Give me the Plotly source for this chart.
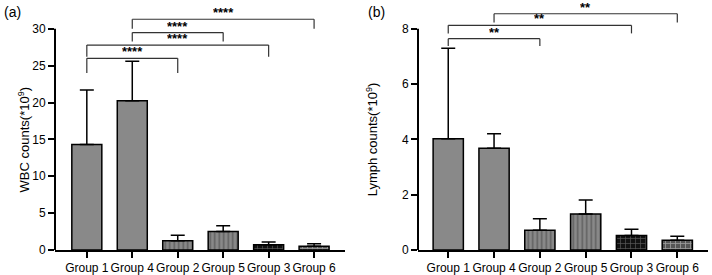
import plotly.graph_objects as go

groups = ["Group 1", "Group 4", "Group 2", "Group 5", "Group 3", "Group 6"]

wbc_mean = [14.3, 20.25, 1.27, 2.5, 0.7, 0.5]
wbc_upper = [21.7, 25.6, 2.0, 3.3, 1.1, 0.85]
lymph_mean = [4.02, 3.68, 0.71, 1.30, 0.52, 0.35]
lymph_upper = [7.29, 4.20, 1.13, 1.81, 0.75, 0.50]

# brackets: (group a, group b, top value, foot value, label)
wbc_brackets = [
    ("Group 1", "Group 2", 26.0, 24.0, "****"),
    ("Group 1", "Group 3", 27.8, 26.2, "****"),
    ("Group 4", "Group 5", 29.5, 28.3, "****"),
    ("Group 4", "Group 6", 31.3, 30.0, "****"),
]
lymph_brackets = [
    ("Group 1", "Group 2", 7.64, 7.37, "**"),
    ("Group 1", "Group 3", 8.12, 7.83, "**"),
    ("Group 4", "Group 6", 8.54, 8.22, "**"),
]

wbc_ticks = [0, 5, 10, 15, 20, 25, 30]
lymph_ticks = [0, 2, 4, 6, 8]

W, H = 712, 275
FONT = "Liberation Sans, Arial"
GRAY = "#898989"
patterns = [
    dict(shape=""),
    dict(shape=""),
    dict(shape="|", size=4.5, solidity=0.35, fgcolor="#3a3a3a", bgcolor=GRAY),
    dict(shape="|", size=4.5, solidity=0.35, fgcolor="#3a3a3a", bgcolor=GRAY),
    dict(shape="+", size=5, solidity=0.25, fgcolor="#a0a0a0", bgcolor="#111111"),
    dict(shape="+", size=5, solidity=0.3, fgcolor="#e0e0e0", bgcolor="#555555"),
]

fig = go.Figure()


def add_panel(means, uppers, xa, ya):
    fig.add_trace(go.Bar(
        x=groups, y=means, xaxis=xa, yaxis=ya, width=0.66,
        marker=dict(color=GRAY, line=dict(color="black", width=1.5),
                    pattern=dict(
                        shape=[p["shape"] for p in patterns],
                        size=[p.get("size", 8) for p in patterns],
                        solidity=[p.get("solidity", 0.3) for p in patterns],
                        fgcolor=[p.get("fgcolor", GRAY) for p in patterns],
                        bgcolor=[p.get("bgcolor", GRAY) for p in patterns],
                        fillmode="overlay")),
        error_y=dict(type="data", symmetric=False,
                     array=[u - m for u, m in zip(uppers, means)],
                     arrayminus=[0] * len(means),
                     color="black", thickness=1.5, width=7),
        showlegend=False, hoverinfo="skip",
    ))


add_panel(wbc_mean, wbc_upper, "x", "y")
add_panel(lymph_mean, lymph_upper, "x2", "y2")

y_dom = [25 / H, 269 / H]

xcommon = dict(type="category", showline=True, linecolor="black", linewidth=2,
               ticks="outside", ticklen=6, tickwidth=2, tickcolor="black",
               tickangle=0, automargin=False,
               tickfont=dict(family=FONT, size=12, color="black"),
               showgrid=False, zeroline=False)
ycommon = dict(showline=False, ticks="outside", ticklen=6, tickwidth=2,
               tickcolor="black", showgrid=False, zeroline=False, automargin=False,
               tickfont=dict(family=FONT, size=12, color="black"))

fig.update_layout(
    width=W, height=H, margin=dict(l=0, r=0, t=0, b=0),
    plot_bgcolor="white", paper_bgcolor="white",
    xaxis=dict(domain=[55 / W, 345 / W], range=[-0.7, 5.68], anchor="y", **xcommon),
    yaxis=dict(domain=y_dom, range=[0, 33.1], anchor="x", tickvals=wbc_ticks, **ycommon),
    xaxis2=dict(domain=[418 / W, 708 / W], range=[-0.66, 5.67], anchor="y2", **xcommon),
    yaxis2=dict(domain=y_dom, range=[0, 8.82], anchor="x2", tickvals=lymph_ticks, **ycommon),
)

# y-axis lines limited to the tick span
for xa, ya, top in [("x", "y", wbc_ticks[-1]), ("x2", "y2", lymph_ticks[-1])]:
    fig.add_shape(type="line", xref=xa + " domain", yref=ya, x0=0, x1=0, y0=0, y1=top,
                  line=dict(color="black", width=2))

# significance brackets
for xa, ya, brs in [("x", "y", wbc_brackets), ("x2", "y2", lymph_brackets)]:
    for a, b, top, foot, lab in brs:
        ia, ib = groups.index(a), groups.index(b)
        ln = dict(color="#333333", width=1.2)
        fig.add_shape(type="line", xref=xa, yref=ya, x0=ia, x1=ib, y0=top, y1=top, line=ln)
        fig.add_shape(type="line", xref=xa, yref=ya, x0=ia, x1=ia, y0=foot, y1=top, line=ln)
        fig.add_shape(type="line", xref=xa, yref=ya, x0=ib, x1=ib, y0=foot, y1=top, line=ln)
        fig.add_annotation(xref=xa, yref=ya, x=(ia + ib) / 2, y=top, text="<b>" + lab + "</b>",
                           showarrow=False, yanchor="bottom", yshift=-1, height=11,
                           valign="middle",
                           font=dict(family=FONT, size=13, color="black"))

# axis titles
fig.add_annotation(xref="paper", yref="y", x=14 / W, y=15, text="WBC counts(*10<sup>9</sup>)",
                   textangle=-90, showarrow=False,
                   font=dict(family=FONT, size=13, color="black"))
fig.add_annotation(xref="paper", yref="y2", x=372 / W, y=4, text="Lymph counts(*10<sup>9</sup>)",
                   textangle=-90, showarrow=False,
                   font=dict(family=FONT, size=13, color="black"))

# panel labels
fig.add_annotation(xref="paper", yref="paper", x=2 / W, y=1 - 2 / H, text="(a)", showarrow=False,
                   xanchor="left", yanchor="top", font=dict(family=FONT, size=14, color="black"))
fig.add_annotation(xref="paper", yref="paper", x=366 / W, y=1 - 2 / H, text="(b)", showarrow=False,
                   xanchor="left", yanchor="top", font=dict(family=FONT, size=14, color="black"))

fig.write_html("out.html", config={"displayModeBar": False},
               post_script="document.body.style.margin='0';document.body.style.overflow='hidden';")
